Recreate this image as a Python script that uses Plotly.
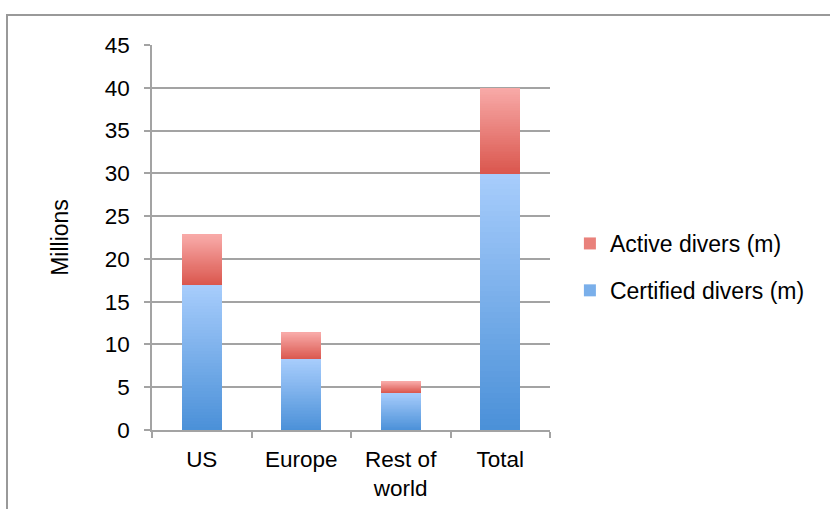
import plotly.graph_objects as go

# Diver counts in millions
regions = ["US", "Europe", "Rest of<br>world", "Total"]
certified = [17.0, 8.3, 4.4, 30.0]
active = [5.8, 3.1, 1.3, 10.0]
y_ticks = [0, 5, 10, 15, 20, 25, 30, 35, 40, 45]

GRID = "#a3a3a3"
FONT = "Liberation Sans, Arial, sans-serif"
N_SLICES = 48  # vertical gradient steps per stacked segment


def hex_to_rgb(h):
    h = h.lstrip("#")
    return tuple(int(h[i:i + 2], 16) for i in (0, 2, 4))


def blend(c0, c1, t):
    a, b = hex_to_rgb(c0), hex_to_rgb(c1)
    return "rgb({},{},{})".format(*(round(a[k] + (b[k] - a[k]) * t) for k in range(3)))


fig = go.Figure()


def add_gradient_series(name, values, bottom, top, rank):
    # each segment is stacked from thin slices, dark at the bottom, light at the top
    for i in range(N_SLICES):
        t = (i + 0.5) / N_SLICES
        fig.add_trace(go.Bar(
            x=regions,
            y=[v / N_SLICES for v in values],
            name=name,
            legendgroup=name,
            legendrank=rank,
            showlegend=(i == N_SLICES // 2),
            marker=dict(color=blend(bottom, top, t), line=dict(width=0)),
            hoverinfo="skip",
        ))


add_gradient_series("Certified divers (m)", certified, "#4a90d8", "#a8cdfc", 2)
add_gradient_series("Active divers (m)", active, "#da564d", "#f8aaa8", 1)

fig.update_layout(
    width=830,
    height=509,
    autosize=False,
    margin=dict(l=152, r=280, t=45, b=79),
    paper_bgcolor="white",
    plot_bgcolor="white",
    barmode="stack",
    bargap=0.595,
    font=dict(family=FONT, size=22.5, color="#000000"),
    showlegend=True,
    legend=dict(
        x=1.05, xanchor="left",
        y=0.4234, yanchor="middle",
        traceorder="grouped",
        tracegroupgap=14,
        font=dict(size=23),
        bgcolor="rgba(0,0,0,0)",
    ),
    xaxis=dict(
        automargin=False,
        showgrid=False,
        showline=True, linecolor=GRID, linewidth=1.5,
        ticks="outside", tickson="boundaries", ticklen=6,
        tickcolor=GRID, tickwidth=1.5,
        ticklabelstandoff=8,
        tickfont=dict(size=22.5),
    ),
    yaxis=dict(
        automargin=False,
        range=[0, 45],
        tickvals=y_ticks,
        showgrid=True, gridcolor=GRID, gridwidth=1.5,
        zeroline=False,
        showline=True, linecolor=GRID, linewidth=1.5,
        ticks="outside", ticklen=6, tickcolor=GRID, tickwidth=1.5,
        ticklabelstandoff=10,
        tickfont=dict(size=22.5),
        title=dict(text="Millions", font=dict(size=23), standoff=30),
    ),
    shapes=[
        # outer chart frame
        dict(type="rect", xref="paper", yref="paper",
             x0=(7 - 152) / 398, x1=(845 - 152) / 398,
             y0=-0.25, y1=1 + 30 / 385,
             line=dict(color="#999999", width=2), fillcolor="rgba(0,0,0,0)",
             layer="below"),
    ],
)

fig.write_html("out.html")
